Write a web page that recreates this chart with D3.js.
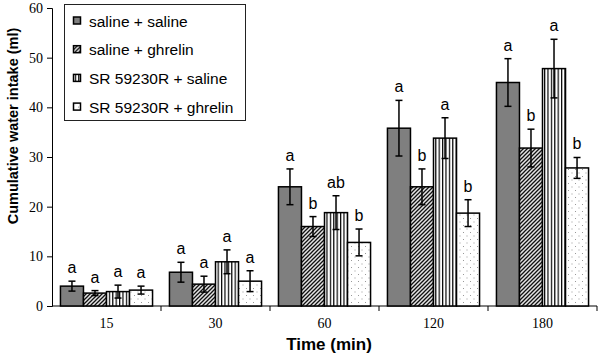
<!DOCTYPE html>
<html>
<head>
<meta charset="utf-8">
<script src="https://cdn.jsdelivr.net/npm/d3@7"></script>
<style>
  body { margin: 0; background: #fff; }
  svg { display: block; }
</style>
</head>
<body>
<div id="chart"></div>
<script>
// data
const times = ["15", "30", "60", "120", "180"];
const groups = ["saline + saline", "saline + ghrelin", "SR 59230R + saline", "SR 59230R + ghrelin"];

const salSal = [4.0, 6.8, 24.0, 35.8, 45.0];
const salGhr = [2.6, 4.4, 16.0, 24.0, 31.8];
const srSal  = [2.9, 8.9, 18.8, 33.8, 47.8];
const srGhr  = [3.2, 5.0, 12.8, 18.7, 27.8];

const salSalErr = [1.0, 2.0, 3.6, 5.6, 4.8];
const salGhrErr = [0.5, 1.6, 2.0, 3.6, 3.8];
const srSalErr  = [1.3, 2.4, 3.4, 4.1, 5.9];
const srGhrErr  = [0.8, 2.1, 2.7, 2.7, 2.1];

const salSalLet = ["a", "a", "a", "a", "a"];
const salGhrLet = ["a", "a", "b", "b", "b"];
const srSalLet  = ["a", "a", "ab", "a", "a"];
const srGhrLet  = ["a", "a", "b", "b", "b"];

const yTicks = [0, 10, 20, 30, 40, 50, 60];

const means = [salSal, salGhr, srSal, srGhr];
const errs = [salSalErr, salGhrErr, srSalErr, srGhrErr];
const lets = [salSalLet, salGhrLet, srSalLet, srGhrLet];

// flatten to one record per bar
let data = [];
times.forEach((t, i) => {
    groups.forEach((g, j) => {
        data.push({time: t, group: g, k: j, v: means[j][i], e: errs[j][i], lab: lets[j][i]});
    });
});

const w = 600, h = 355;
const padLeft = 52, padRight = 597, padTop = 8, padBottom = 306;

let svg = d3.select("#chart")
    .append("svg")
    .attr("width", w)
    .attr("height", h);

// fill patterns
let defs = svg.append("defs");

let hatch = defs.append("pattern")
    .attr("id", "hatch")
    .attr("patternUnits", "userSpaceOnUse")
    .attr("width", 4).attr("height", 4);
hatch.append("rect").attr("width", 4).attr("height", 4).attr("fill", "#e4e4e4");
hatch.append("path")
    .attr("d", "M-1,1 l2,-2 M0,4 l4,-4 M3,5 l2,-2")
    .attr("stroke", "#111").attr("stroke-width", 1.3);

let vstripe = defs.append("pattern")
    .attr("id", "vstripe")
    .attr("patternUnits", "userSpaceOnUse")
    .attr("width", 3.4).attr("height", 4);
vstripe.append("rect").attr("width", 3.4).attr("height", 4).attr("fill", "#fff");
vstripe.append("rect").attr("x", 0).attr("width", 1.2).attr("height", 4).attr("fill", "#000");

let dots = defs.append("pattern")
    .attr("id", "dots")
    .attr("patternUnits", "userSpaceOnUse")
    .attr("width", 7).attr("height", 7);
dots.append("rect").attr("width", 7).attr("height", 7).attr("fill", "#fff");
dots.append("rect").attr("x", 1).attr("y", 1).attr("width", 1).attr("height", 1).attr("fill", "#999");
dots.append("rect").attr("x", 4.5).attr("y", 4.5).attr("width", 1).attr("height", 1).attr("fill", "#999");

const fills = ["#7f7f7f", "url(#hatch)", "url(#vstripe)", "url(#dots)"];

// scales
const x0 = d3.scaleBand()
    .domain(times)
    .range([padLeft, padRight])
    .paddingInner(0.155)
    .paddingOuter(0.0775);

const x1 = d3.scaleBand()
    .domain(groups)
    .range([0, x0.bandwidth()]);

const y = d3.scaleLinear()
    .domain([0, 60])
    .range([padBottom, padTop]);

// y axis
const yAxis = d3.axisLeft(y)
    .tickValues(yTicks)
    .tickSize(5)
    .tickPadding(4);

let gy = svg.append("g")
    .attr("transform", "translate(" + padLeft + ",0)")
    .call(yAxis);
gy.selectAll("text")
    .attr("font-family", "Liberation Serif, Times New Roman, serif")
    .attr("font-size", 14)
    .attr("fill", "#000");
gy.selectAll("line, path").attr("stroke", "#000");

// x axis: labels only, boundary ticks drawn separately
const xAxis = d3.axisBottom(x0).tickSize(0).tickPadding(12);
let gx = svg.append("g")
    .attr("transform", "translate(0," + padBottom + ")")
    .call(xAxis);
gx.select(".domain").remove();
gx.selectAll("text")
    .attr("font-family", "Liberation Serif, Times New Roman, serif")
    .attr("font-size", 14)
    .attr("fill", "#000");

svg.append("line")
    .attr("x1", padLeft).attr("x2", padRight)
    .attr("y1", padBottom).attr("y2", padBottom)
    .attr("stroke", "#000");

svg.append("g")
    .selectAll("line")
    .data(d3.range(1, times.length + 1))
    .join("line")
        .attr("x1", i => padLeft + i * x0.step())
        .attr("x2", i => padLeft + i * x0.step())
        .attr("y1", padBottom)
        .attr("y2", padBottom + 5)
        .attr("stroke", "#000");

// bars
svg.append("g")
    .selectAll("rect")
    .data(data)
    .join("rect")
        .attr("x", d => x0(d.time) + x1(d.group))
        .attr("y", d => y(d.v))
        .attr("width", x1.bandwidth())
        .attr("height", d => y(0) - y(d.v))
        .attr("fill", d => fills[d.k])
        .attr("stroke", "#000")
        .attr("stroke-width", 1.5);

// error bars
let eb = svg.append("g")
    .selectAll("g")
    .data(data)
    .join("g")
        .attr("transform", d => "translate(" + (x0(d.time) + x1(d.group) + x1.bandwidth() / 2) + ",0)")
        .attr("stroke", "#000")
        .attr("stroke-width", 1.5);

eb.append("line")
    .attr("y1", d => y(d.v - d.e))
    .attr("y2", d => y(d.v + d.e));
eb.append("line")
    .attr("x1", -3.5).attr("x2", 3.5)
    .attr("y1", d => y(d.v + d.e))
    .attr("y2", d => y(d.v + d.e));
eb.append("line")
    .attr("x1", -3.5).attr("x2", 3.5)
    .attr("y1", d => y(d.v - d.e))
    .attr("y2", d => y(d.v - d.e));

// significance letters
svg.append("g")
    .selectAll("text")
    .data(data)
    .join("text")
        .attr("x", d => x0(d.time) + x1(d.group) + x1.bandwidth() / 2)
        .attr("y", d => y(d.v + d.e) - 8)
        .attr("text-anchor", "middle")
        .attr("font-family", "Liberation Sans, Arial, sans-serif")
        .attr("font-size", 16)
        .text(d => d.lab);

// legend
let legend = svg.append("g");
legend.append("rect")
    .attr("x", 64.5).attr("y", 4.5)
    .attr("width", 181).attr("height", 116)
    .attr("fill", "#fff")
    .attr("stroke", "#222");

let li = legend.selectAll("g")
    .data(groups)
    .join("g")
        .attr("transform", (d, i) => "translate(0," + (26.5 + i * 28.7) + ")");

li.append("rect")
    .attr("x", 73.5).attr("y", -9.5)
    .attr("width", 7).attr("height", 7)
    .attr("fill", (d, i) => fills[i])
    .attr("stroke", "#000")
    .attr("stroke-width", 1.5);

li.append("text")
    .attr("x", 89)
    .attr("font-family", "Liberation Sans, Arial, sans-serif")
    .attr("font-size", 15.5)
    .text(d => d);

// axis titles
svg.append("text")
    .attr("x", 329)
    .attr("y", 350)
    .attr("text-anchor", "middle")
    .attr("font-family", "Liberation Sans, Arial, sans-serif")
    .attr("font-weight", "bold")
    .attr("font-size", 17)
    .text("Time (min)");

svg.append("text")
    .attr("transform", "rotate(-90)")
    .attr("x", -126)
    .attr("y", 18)
    .attr("text-anchor", "middle")
    .attr("font-family", "Liberation Sans, Arial, sans-serif")
    .attr("font-weight", "bold")
    .attr("font-size", 14.5)
    .text("Cumulative water intake (ml)");
</script>
</body>
</html>
